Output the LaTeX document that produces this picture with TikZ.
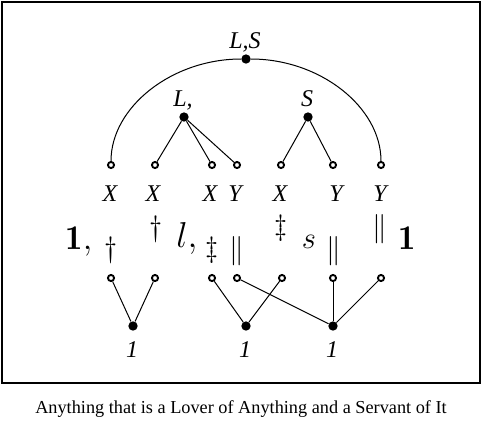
\RequirePackage{fix-cm}
\documentclass[tikz,border=0pt]{standalone}
\usepackage{fontspec}
\newfontfamily\timesfont{Liberation Serif}
\usetikzlibrary{positioning}
\tikzset{
  openpt/.style={circle, draw, fill=white, line width=1.4pt, inner sep=0pt, minimum size=4.6pt},
  solidpt/.style={circle, fill=black, inner sep=0pt, minimum size=7pt},
  varlabel/.style={font=\timesfont\itshape\fontsize{18}{21}\selectfont, anchor=base, inner sep=0pt},
  marklabel/.style={font=\fontsize{22}{25}\selectfont, inner sep=0pt},
  mathlabel/.style={font=\fontsize{26}{29}\selectfont, anchor=base, inner sep=0pt},
  graphline/.style={line width=0.75pt}
}

\begin{document}
\begin{tikzpicture}[x=0.75pt, y=-0.75pt]
    \useasboundingbox (0,0) rectangle (482,433);
    \draw[line width=1.2pt] (2,2) rectangle (480,383);

    % upper graph
    \node[solidpt] (ls) at (246,59) {};
    \node[solidpt] (lv) at (184,117) {};
    \node[solidpt] (sv) at (308,117) {};
    \node[varlabel] (lslab) at (245,48) {L,S};
    \node[varlabel] (lvlab) at (183,106) {L,};
    \node[varlabel] (svlab) at (307,106) {S};

    \node[openpt] (t1) at (111,165) {};
    \node[openpt] (t2) at (155,165) {};
    \node[openpt] (t3) at (212,165) {};
    \node[openpt] (t4) at (237,165) {};
    \node[openpt] (t5) at (281,165) {};
    \node[openpt] (t6) at (333,165) {};
    \node[openpt] (t7) at (381,165) {};

    \node[varlabel] (x1) at (110,201) {X};
    \node[varlabel] (x2) at (153,201) {X};
    \node[varlabel] (x3) at (210,201) {X};
    \node[varlabel] (y4) at (235,201) {Y};
    \node[varlabel] (x5) at (280,201) {X};
    \node[varlabel] (y6) at (336,201) {Y};
    \node[varlabel] (y7) at (380,201) {Y};

    \draw[graphline] (t1) .. controls +(0,-58) and +(-74,0) .. (ls)
                          .. controls +(74,0) and +(0,-58) .. (t7);
    \draw[graphline] (lv) -- (t2);
    \draw[graphline] (lv) -- (t3);
    \draw[graphline] (lv) -- (t4);
    \draw[graphline] (sv) -- (t5);
    \draw[graphline] (sv) -- (t6);

    % formula row
    \node[mathlabel] (one1) at (79,249) {$\mathbf{1},$};
    \node[marklabel] (m1) at (111,250) {$\dagger$};
    \node[marklabel] (m2) at (156,229) {$\dagger$};
    \node[mathlabel, font=\fontsize{27}{30}\selectfont] (lrel) at (187,247) {$l,$};
    \node[marklabel] (m3) at (212,250) {$\ddagger$};
    \node[marklabel] (m4) at (237,251) {$\|$};
    \node[marklabel] (m5) at (281,228) {$\ddagger$};
    \node[mathlabel, font=\fontsize{23}{26}\selectfont] (srel) at (309,248) {$s$};
    \node[marklabel] (m6) at (334,251) {$\|$};
    \node[marklabel] (m7) at (380,229) {$\|$};
    \node[mathlabel] (one2) at (407,249) {$\mathbf{1}$};

    % lower graph
    \node[openpt] (b1) at (111,278) {};
    \node[openpt] (b2) at (155,278) {};
    \node[openpt] (b3) at (212,278) {};
    \node[openpt] (b4) at (237,278) {};
    \node[openpt] (b5) at (282,278) {};
    \node[openpt] (b6) at (333,278) {};
    \node[openpt] (b7) at (381,278) {};

    \node[solidpt] (u1) at (133,326) {};
    \node[solidpt] (u2) at (246,326) {};
    \node[solidpt] (u3) at (333,326) {};
    \node[varlabel] (u1lab) at (132,357) {1};
    \node[varlabel] (u2lab) at (245,357) {1};
    \node[varlabel] (u3lab) at (332,357) {1};

    \draw[graphline] (u1) -- (b1);
    \draw[graphline] (u1) -- (b2);
    \draw[graphline] (u2) -- (b3);
    \draw[graphline] (u2) -- (b5);
    \draw[graphline] (u3) -- (b4);
    \draw[graphline] (u3) -- (b6);
    \draw[graphline] (u3) -- (b7);

    \node[font=\timesfont\fontsize{13.7}{16}\selectfont, anchor=base] (caption) at (241,413)
      {Anything that is a Lover of Anything and a Servant of It};
\end{tikzpicture}
\end{document}
